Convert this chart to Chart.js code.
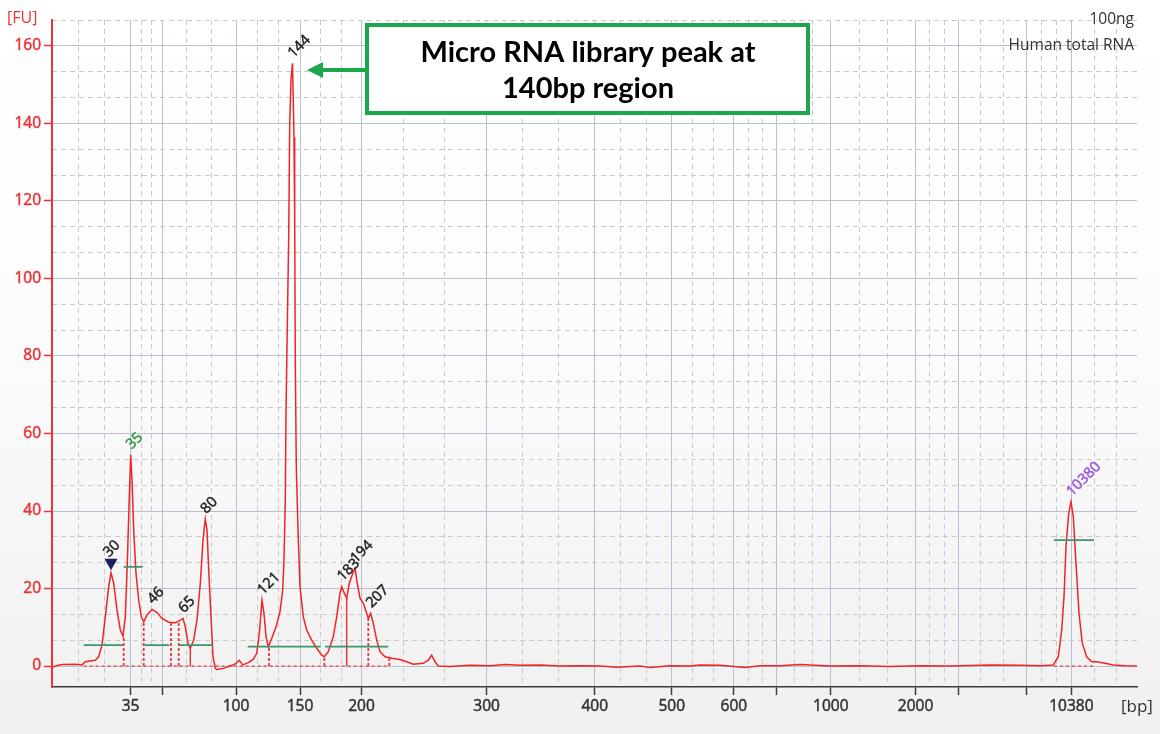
<!DOCTYPE html>
<html><head><meta charset="utf-8">
<script src="https://cdn.jsdelivr.net/npm/chart.js@4.4.1/dist/chart.umd.min.js"></script>
<style>
html,body{margin:0;padding:0;background:#fff;}
#wrap{position:relative;width:1160px;height:734px;background:linear-gradient(to bottom,#ffffff 0%,#fcfcfc 45%,#f0f0f0 100%);}
canvas{display:block;}
</style></head><body>
<div id="wrap"><canvas id="c" width="1160" height="734"></canvas></div>
<script>
// Electropherogram trace: migration time (s) and fluorescence (FU)
const traceTime = [17.0,17.3,17.55,18.15,18.5,18.665,18.9,19.165,19.335,19.5,
  19.665,19.835,19.95,20.085,20.25,20.415,20.55,20.665,20.765,20.865,
  20.935,21.0,21.085,21.2,21.335,21.465,21.585,21.75,22.0,22.25,
  22.5,22.835,23.165,23.385,23.55,23.665,23.8,23.915,24.085,24.25,
  24.415,24.55,24.665,24.75,24.835,24.95,25.05,25.165,25.235,25.565,
  25.9,26.15,26.365,26.535,26.815,27.065,27.235,27.365,27.5,27.6,
  27.7,27.815,27.985,28.2,28.4,28.535,28.6,28.665,28.7,28.785,
  28.835,28.885,28.95,29.025,29.1,29.135,29.165,29.215,29.3,29.4,
  29.565,29.735,29.985,30.235,30.485,30.615,30.815,31.065,31.235,31.4,
  31.485,31.615,31.735,31.865,32.035,32.15,32.265,32.4,32.565,32.735,
  32.815,32.935,33.065,33.235,33.4,33.65,33.985,34.4,34.735,35.065,
  35.565,35.815,35.985,36.15,36.315,36.9,37.9,38.9,39.65,40.4,
  41.4,42.4,43.4,44.4,45.25,46.4,46.9,47.9,48.9,49.4,
  50.4,51.65,52.4,53.4,54.4,55.9,57.4,58.9,60.4,61.9,
  63.9,65.4,66.4,67.065,67.315,67.485,67.6,67.7,67.835,67.95,
  68.065,68.2,68.35,68.515,68.735,68.985,69.235,69.65,70.065,70.65,
  71.25];
const traceFU = [-0.3,0.2,0.4,0.5,0.3,1.1,1.3,1.5,2.4,5.4,
  12.7,20.5,24.1,21.3,14.5,9.3,7.7,12.7,26.5,43.7,
  54.5,48,35,23.9,17,12.7,11.4,13.2,14.6,13.8,
  12.3,11.3,11.2,11.7,12.3,10.1,5.9,4.6,6.7,11.9,
  21.3,32.5,37.9,35.1,24.8,12.7,2.4,-0.6,-0.9,-0.6,
  0,0.5,1.5,0.3,0.9,1.7,3.3,8.4,17,13.6,
  7.6,5.0,7.1,10.1,14.0,19.6,27.4,42.8,65.4,94.4,
  110.5,139.6,151.4,155.5,136.4,114.9,78.3,51.4,35.3,20.5,
  12.7,9.3,6.7,4.6,2.8,2.4,3.7,7.6,12.7,18.8,
  20.5,18.8,17.5,21.3,23.9,25.2,21.3,17.5,16.2,13.6,
  12.3,13.6,11,6.7,3.7,2.4,2.0,1.7,1.1,0.5,
  0.7,1.5,2.8,1.1,0,-0.1,0.2,0.1,0.4,0.2,
  0.3,0.0,0.1,0.0,-0.3,0.0,-0.4,0.1,0.0,0.3,
  0.2,-0.4,0.1,0.1,0.4,0.0,0.1,-0.1,0.1,0.0,
  0.3,0.2,0.1,0.3,2.4,9.3,17.9,30.8,39.4,42.4,
  38.5,26.5,13.6,5.9,2.4,1.1,1.1,0.7,0.3,0.1,
  0];

// Ladder (bp) positions on the time axis, and their tick labels
const ladderTime  = [20.93,22.5,26.2,29.4,32.475,38.73,44.135,47.99,51.095,53.225,55.94,60.18,62.315,65.7,67.97];
const ladderLabel = ['35','','100','150','200','300','400','500','600','','1000','2000','','','10380'];
const yTicks = [0,20,40,60,80,100,120,140,160];

// Called peaks
const peakLabels = ['30','35','46','65','80','121','144','183','194','207','10380'];
const peakTimes  = [19.95,20.935,22.0,23.55,24.665,27.5,29.025,31.485,32.15,32.935,67.95];
const peakFU     = [24.1,54.5,14.6,12.3,37.9,17,155.5,20.5,25.2,13.6,42.4];

// Region (green) bars: start time, end time, level (FU)
const regionStart = [18.585,20.585,21.615,23.365,26.785,30.65,67.1];
const regionEnd   = [20.55,21.535,22.865,25.05,30.435,33.815,69.1];
const regionFU    = [5.4,25.6,5.4,5.4,5.0,5.0,32.5];

// Peak boundary drop lines (time, top FU)
const dashedDropTime = [20.585,21.585,22.95,23.335,27.85,30.615,32.815,33.865];
const dashedDropFU   = [7.7,11.4,11.2,11.6,5.0,2.4,12.3,2.0];
const solidDropTime  = [23.915,31.735];
const solidDropFU    = [4.6,17.5];

// Integration baselines (start, end times at 0 FU)
const baseStart = [18.585,67.1];
const baseEnd   = [33.865,69.1];

const RED = '#ec3338';
const TRACE = '#ef2525';
const GREEN_BAR = '#3d9569';
const GRID = '#b9c0cf';
const MINOR = '#cacaca';

const X_MIN = 17, X_MAX = 71.25, Y_MIN = -5.4, Y_MAX = 166.67;

// minor gridlines: thirds between ladder ticks (and the plot edges)
const edges = [X_MIN, ...ladderTime, 71.375];
const minorX = [];
for (let i = 0; i < edges.length - 1; i++) {
  const a = edges[i], b = edges[i + 1];
  minorX.push(a + (b - a) / 3, a + 2 * (b - a) / 3);
}
const minorXv = minorX.filter(v => v > X_MIN && v < X_MAX);
const minorY = [];
for (let k = 1; k <= 25; k++) if (k % 3 !== 0) minorY.push(k * 20 / 3);

const pts = (xs, ys) => xs.map((t, i) => ({x: t, y: ys[i]}));
const datasets = [];
datasets.push({data: pts(traceTime, traceFU), borderColor: TRACE, borderWidth: 1.5, pointRadius: 0, tension: 0, order: 5});
baseStart.forEach((s, i) => datasets.push({data: [{x: s, y: 0}, {x: baseEnd[i], y: 0}], borderColor: '#e8484b', borderWidth: 1.3, borderDash: [3, 3], pointRadius: 0, order: 6}));
dashedDropTime.forEach((t, i) => datasets.push({data: [{x: t, y: 0}, {x: t, y: dashedDropFU[i]}], borderColor: '#e8383c', borderWidth: 1.8, borderDash: [3, 2], pointRadius: 0, order: 6}));
solidDropTime.forEach((t, i) => datasets.push({data: [{x: t, y: 0}, {x: t, y: solidDropFU[i]}], borderColor: '#e8383c', borderWidth: 1.5, pointRadius: 0, order: 6}));
regionStart.forEach((s, i) => datasets.push({data: [{x: s, y: regionFU[i]}, {x: regionEnd[i], y: regionFU[i]}], borderColor: GREEN_BAR, borderWidth: 1.8, pointRadius: 0, order: 4}));

const markerColor = {'35': '#2e9a3a', '10380': '#9b55e0'};

const overlay = {
  id: 'overlay',
  afterDatasetsDraw(chart) {
    const {ctx, scales: {x, y}} = chart;
    ctx.save();
    // peak labels
    ctx.font = '14.5px "Open Sans"';
    ctx.lineWidth = 0.5;
    peakLabels.forEach((lab, i) => {
      const px = x.getPixelForValue(peakTimes[i]);
      const py = y.getPixelForValue(peakFU[i]);
      let ax = px + 1, ay = py - 5;
      if (lab === '30') {
        ctx.fillStyle = '#1d1d66';
        ctx.beginPath();
        ctx.moveTo(px - 6.5, py - 14);
        ctx.lineTo(px + 6.5, py - 14);
        ctx.lineTo(px, py - 2.5);
        ctx.closePath();
        ctx.fill();
        ax = px - 2; ay = py - 15;
      }
      ctx.save();
      ctx.translate(ax, ay);
      ctx.rotate(-Math.PI / 4);
      const c = markerColor[lab] || '#1e1e1e';
      ctx.fillStyle = c;
      ctx.strokeStyle = c;
      ctx.textAlign = 'left';
      ctx.textBaseline = 'alphabetic';
      ctx.fillText(lab, 0, 0);
      ctx.strokeText(lab, 0, 0);
      ctx.restore();
    });

    // axis unit labels and header text
    ctx.font = '16px "Open Sans"';
    ctx.fillStyle = RED;
    ctx.textAlign = 'left';
    ctx.textBaseline = 'middle';
    ctx.fillText('[FU]', 7, 18);
    ctx.fillStyle = '#333';
    ctx.font = '17px "Open Sans"';
    ctx.fillText('[bp]', 1121, 707);
    ctx.font = '15.5px "Open Sans"';
    ctx.textAlign = 'right';
    ctx.fillText('100ng', 1134, 20);
    ctx.fillText('Human total RNA', 1134, 46);

    // annotation box
    ctx.fillStyle = '#ffffff';
    ctx.fillRect(367, 25, 441, 88);
    ctx.strokeStyle = '#1ca64d';
    ctx.lineWidth = 4;
    ctx.strokeRect(367, 25, 441, 88);
    ctx.fillStyle = '#000';
    ctx.textAlign = 'center';
    ctx.textBaseline = 'middle';
    ctx.font = 'bold 29px Lato';
    ctx.fillText('Micro RNA library peak at', 588, 53);
    ctx.fillText('140bp region', 588, 89);

    // arrow
    ctx.strokeStyle = '#1ca64d';
    ctx.fillStyle = '#1ca64d';
    ctx.lineWidth = 4;
    ctx.beginPath();
    ctx.moveTo(365, 70);
    ctx.lineTo(320, 70);
    ctx.stroke();
    ctx.beginPath();
    ctx.moveTo(307, 70);
    ctx.lineTo(323, 62);
    ctx.lineTo(323, 78);
    ctx.closePath();
    ctx.fill();
    ctx.restore();
  }
};

new Chart(document.getElementById('c'), {
  type: 'line',
  data: {datasets},
  options: {
    responsive: false,
    animation: false,
    devicePixelRatio: 1,
    layout: {padding: {top: 20, right: 23, left: 0, bottom: 0}},
    plugins: {legend: {display: false}, tooltip: {enabled: false}},
    scales: {
      xMinor: {
        type: 'linear', min: X_MIN, max: X_MAX, position: 'bottom', z: -1,
        afterBuildTicks: s => { s.ticks = minorXv.map(v => ({value: v})); },
        afterFit: s => { s.height = 0; },
        ticks: {display: false},
        grid: {color: MINOR, lineWidth: 1, drawTicks: false},
        border: {display: false, dash: [5, 4]}
      },
      yMinor: {
        type: 'linear', min: Y_MIN, max: Y_MAX, position: 'left', z: -1,
        afterBuildTicks: s => { s.ticks = minorY.map(v => ({value: v})); },
        afterFit: s => { s.width = 0; },
        ticks: {display: false},
        grid: {color: MINOR, lineWidth: 1, drawTicks: false},
        border: {display: false, dash: [5, 4]}
      },
      x: {
        type: 'linear', min: X_MIN, max: X_MAX, position: 'bottom',
        afterBuildTicks: s => { s.ticks = ladderTime.map(v => ({value: v})); },
        afterFit: s => { s.height = 47; },
        ticks: {
          autoSkip: false, maxRotation: 0, padding: 2, color: '#333',
          textStrokeColor: '#333', textStrokeWidth: 0.5,
          font: {family: 'Open Sans', size: 15.5},
          callback: (v, i) => ladderLabel[i]
        },
        grid: {color: GRID, lineWidth: 1, tickLength: 8, tickColor: '#3c3c3c', tickWidth: 1.5},
        border: {display: true, color: '#3c3c3c', width: 1.5}
      },
      y: {
        type: 'linear', min: Y_MIN, max: Y_MAX, position: 'left',
        afterBuildTicks: s => { s.ticks = yTicks.map(v => ({value: v})); },
        afterFit: s => { s.width = 52; },
        ticks: {color: RED, padding: 3, textStrokeColor: RED, textStrokeWidth: 0.5, font: {family: 'Open Sans', size: 15.5}},
        grid: {color: GRID, lineWidth: 1, tickLength: 8, tickColor: RED, tickWidth: 1.5},
        border: {display: true, color: RED, width: 2}
      }
    }
  },
  plugins: [overlay]
});
</script>
</body></html>
